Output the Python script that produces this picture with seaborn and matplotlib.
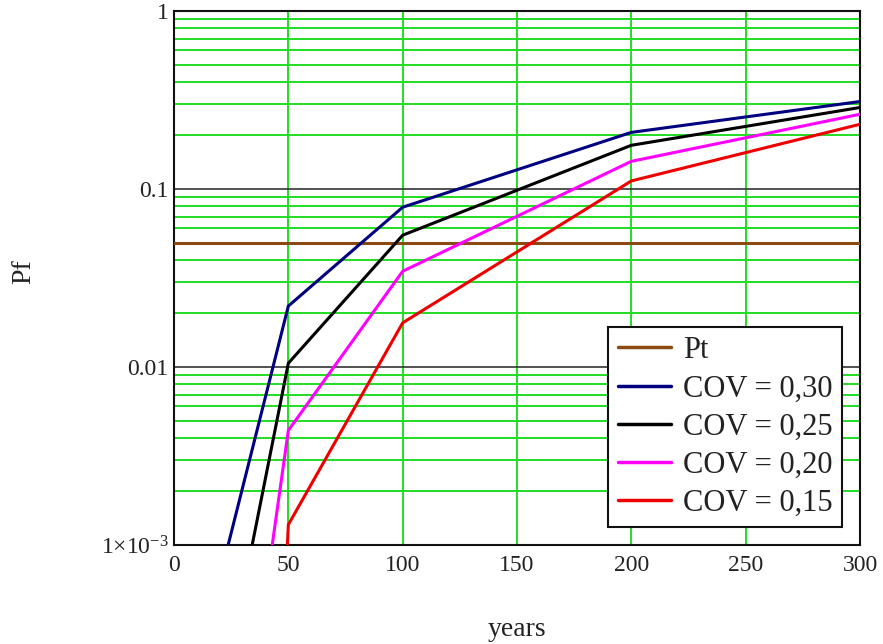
import numpy as np
import pandas as pd
import matplotlib
matplotlib.use("Agg")
import matplotlib.pyplot as plt
import matplotlib.ticker as mticker
import seaborn as sns

# ---- data ----
years = [0, 50, 100, 200, 300]
pf_cov030 = [6.2e-5, 0.022, 0.079, 0.208, 0.31]
pf_cov025 = [6.2e-6, 0.0105, 0.055, 0.176, 0.287]
pf_cov020 = [1.2e-7, 0.0044, 0.0345, 0.143, 0.263]
pf_cov015 = [2.5e-17, 0.0013, 0.0177, 0.111, 0.231]
pt_value = 0.05
pt_years = [0, 300]
series_labels = ["COV = 0,30", "COV = 0,25", "COV = 0,20", "COV = 0,15"]
x_ticks = [0, 50, 100, 150, 200, 250, 300]
y_ticks = [1e-3, 1e-2, 1e-1, 1]
y_tick_labels = [r"1$\times$10$^{-3}$", "0.01", "0.1", "1"]

sns.set_theme(style="white")
plt.rcParams["font.family"] = ["Liberation Serif", "DejaVu Serif"]
plt.rcParams["mathtext.fontset"] = "custom"
plt.rcParams["mathtext.rm"] = "Liberation Serif"
plt.rcParams["mathtext.it"] = "Liberation Serif:italic"

frames = [pd.DataFrame({"years": pt_years, "Pf": [pt_value, pt_value], "series": "Pt"})]
for lab, vals in zip(series_labels, [pf_cov030, pf_cov025, pf_cov020, pf_cov015]):
    frames.append(pd.DataFrame({"years": years, "Pf": vals, "series": lab}))
df = pd.concat(frames, ignore_index=True)

palette = {"Pt": "#8a4a12", "COV = 0,30": "#000080", "COV = 0,25": "#000000",
           "COV = 0,20": "#ff00ff", "COV = 0,15": "#ee0000"}

fig = plt.figure(figsize=(8.83, 6.44), dpi=100)
ax = fig.add_axes([174/883, 1 - 545/644, (860-174)/883, (545-11)/644])

ax.set_yscale("log")
ax.set_xlim(0, 300)
ax.set_ylim(1e-3, 1)

# grid
for xv in x_ticks[1:-1]:
    ax.axvline(xv, color="#22dd22", lw=1.4, zorder=1)
for dec in [1e-3, 1e-2, 1e-1]:
    for m in range(2, 10):
        ax.axhline(dec * m, color="#22dd22", lw=1.4, zorder=1)
for yv in [1e-2, 1e-1]:
    ax.axhline(yv, color="#333333", lw=1.2, zorder=1.5)

sns.lineplot(data=df, x="years", y="Pf", hue="series", palette=palette,
             hue_order=["Pt"] + series_labels, lw=2.2, ax=ax, zorder=3,
             legend=True)

ax.set_xticks(x_ticks)
ax.set_xticklabels([str(v) for v in x_ticks])
ax.yaxis.set_major_locator(mticker.FixedLocator(y_ticks))
ax.yaxis.set_minor_locator(mticker.NullLocator())
ax.set_yticklabels(y_tick_labels)
ax.tick_params(axis="both", labelsize=17, colors="#222222", length=0)
ax.tick_params(axis="x", pad=7)
ax.tick_params(axis="y", pad=4)

for sp in ax.spines.values():
    sp.set_color("#111111")
    sp.set_linewidth(1.5)

ax.set_xlabel("years", fontsize=20, color="#222222")
ax.set_ylabel("Pf", fontsize=20, color="#222222")
ax.xaxis.set_label_coords(0.5, -(617 - 545) / 534)
ax.yaxis.set_label_coords((36 - 174) / 686, (545 - 272) / 534)

leg = ax.legend(loc="lower right", bbox_to_anchor=((842 - 174) / 686, (545 - 527) / 534),
                fontsize=22, frameon=True, fancybox=False, edgecolor="#111111",
                handlelength=1.75, handletextpad=0.4, borderpad=0.3,
                labelspacing=0.3, borderaxespad=0)
leg.get_frame().set_linewidth(1.5)
leg.get_frame().set_facecolor("white")
leg.get_frame().set_alpha(1)
for t in leg.get_texts():
    t.set_color("#222222")
for h in leg.get_lines():
    h.set_linewidth(2.5)

fig.savefig("out.png", dpi=100)
